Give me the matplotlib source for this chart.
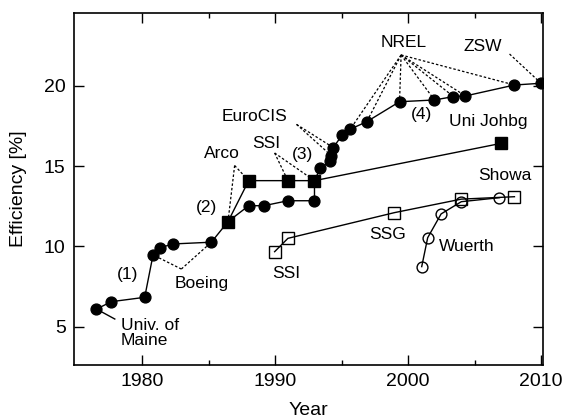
import matplotlib
matplotlib.use('Agg')
import matplotlib.pyplot as plt

plt.rcParams['font.family'] = ['Liberation Sans', 'DejaVu Sans']

# filled circles: main CIGS record line
cigs_year = [1976.54, 1977.67, 1980.17, 1980.80, 1981.35, 1982.30, 1985.19,
             1988.00, 1989.14, 1990.95, 1992.95,
             1993.38, 1994.12, 1994.21, 1994.36, 1995.04, 1995.64, 1996.89,
             1999.35, 2001.98, 2003.41, 2004.31, 2008.00, 2010.00]
cigs_eff = [6.10, 6.56, 6.83, 9.47, 9.92, 10.15, 10.26,
            12.53, 12.53, 12.84, 12.84,
            14.86, 15.30, 15.65, 16.15, 16.93, 17.29, 17.76,
            19.00, 19.11, 19.32, 19.36, 20.04, 20.15]

# filled squares
sq_year = [1986.44, 1988.00, 1990.95, 1992.95, 2007.00]
sq_eff = [11.54, 14.09, 14.09, 14.09, 16.41]

# open squares (SSI / SSG / Showa)
osq_year = [1989.95, 1990.95, 1998.97, 2004.00, 2008.00]
osq_eff = [9.67, 10.50, 12.10, 12.94, 13.09]

# open circles (Wuerth)
ocirc_year = [2001.02, 2001.47, 2002.48, 2004.00, 2006.87]
ocirc_eff = [8.74, 10.54, 12.02, 12.78, 13.03]

# main path goes through two of the filled squares
main_year = cigs_year[:7] + [sq_year[0]] + cigs_year[7:11] + [sq_year[3]] + cigs_year[11:]
main_eff = cigs_eff[:7] + [sq_eff[0]] + cigs_eff[7:11] + [sq_eff[3]] + cigs_eff[11:]

fig = plt.figure(figsize=(5.64, 4.2), dpi=100)
ax = fig.add_axes([0.1312, 0.131, 0.8316, 0.838])

lw = 1.0
ax.plot(main_year, main_eff, color='black', lw=lw, zorder=2)
ax.plot(sq_year, sq_eff, color='black', lw=lw, zorder=2)
ax.plot(osq_year, osq_eff, color='black', lw=lw, zorder=2)
ax.plot(ocirc_year, ocirc_eff, color='black', lw=lw, zorder=2)

ax.plot(cigs_year, cigs_eff, 'o', ms=7.8, color='black', zorder=4)
ax.plot(sq_year, sq_eff, 's', ms=8.6, color='black', zorder=4)
ax.plot(osq_year, osq_eff, 's', ms=8.0, mfc='none', mec='black', mew=1.0, zorder=4)
ax.plot(ocirc_year, ocirc_eff, 'o', ms=7.8, mfc='none', mec='black', mew=1.0, zorder=4)

dot = dict(color='black', lw=0.9, ls=(0, (2, 1.6)), zorder=1)


def fan(vx, vy, xs, ys):
    for x, y in zip(xs, ys):
        ax.plot([vx, x], [vy, y], **dot)


fan(1982.93, 8.59, [cigs_year[3], cigs_year[6]], [cigs_eff[3], cigs_eff[6]])  # Boeing
fan(1986.94, 15.03, sq_year[:2], sq_eff[:2])  # Arco
fan(1989.95, 15.81, sq_year[2:4], sq_eff[2:4])  # SSI
fan(1991.60, 17.59, cigs_year[13:15], cigs_eff[13:15])  # EuroCIS
nrel = [16, 17, 18, 19, 20, 21, 22]
fan(1999.47, 21.91, [cigs_year[i] for i in nrel], [cigs_eff[i] for i in nrel])  # NREL
fan(2007.63, 21.97, [cigs_year[23]], [cigs_eff[23]])  # ZSW

# Univ. of Maine leader (solid)
ax.plot([cigs_year[0], 1977.92], [cigs_eff[0], 5.48], color='black', lw=lw, zorder=1)

fs = 12.5
ax.text(1978.35, 4.62, 'Univ. of\nMaine', fontsize=fs, ha='left', va='center', linespacing=1.05)
ax.text(1978.9, 8.27, '(1)', fontsize=fs, ha='center', va='center')
ax.text(1984.44, 7.66, 'Boeing', fontsize=fs, ha='center', va='center')
ax.text(1984.81, 12.42, '(2)', fontsize=fs, ha='center', va='center')
ax.text(1985.96, 15.79, 'Arco', fontsize=fs, ha='center', va='center')
ax.text(1989.32, 16.42, 'SSI', fontsize=fs, ha='center', va='center')
ax.text(1992.02, 15.72, '(3)', fontsize=fs, ha='center', va='center')
ax.text(1988.44, 18.07, 'EuroCIS', fontsize=fs, ha='center', va='center')
ax.text(1999.65, 22.68, 'NREL', fontsize=fs, ha='center', va='center')
ax.text(2005.6, 22.43, 'ZSW', fontsize=fs, ha='center', va='center')
ax.text(2000.98, 18.18, '(4)', fontsize=fs, ha='center', va='center')
ax.text(2006.04, 17.76, 'Uni Johbg', fontsize=fs, ha='center', va='center')
ax.text(2007.29, 14.38, 'Showa', fontsize=fs, ha='center', va='center')
ax.text(1998.42, 10.71, 'SSG', fontsize=fs, ha='center', va='center')
ax.text(2004.42, 9.98, 'Wuerth', fontsize=fs, ha='center', va='center')
ax.text(1990.83, 8.33, 'SSI', fontsize=fs, ha='center', va='center')

ax.set_xlim(1974.85, 2010.15)
ax.set_ylim(2.62, 24.52)
ax.set_xticks([1980, 1990, 2000, 2010])
ax.set_xticks([1985, 1995, 2005], minor=True)
ax.set_yticks([5, 10, 15, 20])
ax.tick_params(which='both', direction='in', top=True, right=True, labelsize=14, pad=6, width=1.0)
ax.tick_params(which='major', length=7)
ax.tick_params(which='minor', length=3.5)
for s in ax.spines.values():
    s.set_linewidth(1.2)

ax.set_xlabel('Year', fontsize=14, labelpad=8.5)
ax.set_ylabel('Efficiency [%]', fontsize=14, labelpad=12)

fig.savefig('out.png', dpi=100)
